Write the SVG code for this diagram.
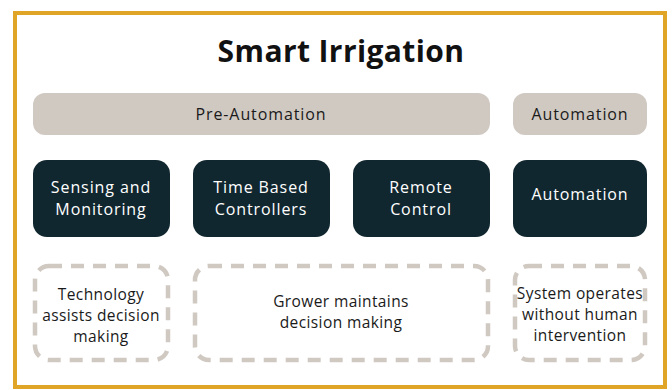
<svg xmlns="http://www.w3.org/2000/svg" width="672" height="390" viewBox="0 0 672 390">
<style>
.t{font-family:"Open Sans","Liberation Sans",sans-serif;font-size:16px;letter-spacing:0.9px;text-anchor:middle}
.s{font-family:"Open Sans","Liberation Sans",sans-serif;font-size:15.5px;letter-spacing:0.4px;text-anchor:middle}
.cat{fill:#D0C9C2}
.dark{fill:#11272F}
.dash{fill:none;stroke:#D0C9C2;stroke-width:4.5;stroke-dasharray:13 9}
.w{fill:#ffffff}
.k{fill:#1a1a1a}
</style>
<rect x="0" y="0" width="672" height="390" fill="#ffffff"/>
<rect x="15" y="13" width="650" height="374" fill="#ffffff" stroke="#E0A526" stroke-width="4"/>
<text x="341" y="62" font-family="'Open Sans','Liberation Sans',sans-serif" font-size="30" font-weight="bold" letter-spacing="0.4" text-anchor="middle" fill="#111111">Smart Irrigation</text>
<g id="pre-automation"><rect class="cat" x="33" y="93" width="457" height="42" rx="12"/><text class="t k" x="261" y="120">Pre-Automation</text></g>
<g id="automation-cat"><rect class="cat" x="513" y="93" width="134" height="42" rx="12"/><text class="t k" x="580" y="120">Automation</text></g>
<g id="sensing"><rect class="dark" x="33" y="160" width="137" height="77" rx="14"/><text class="t w" x="101" y="193">Sensing and</text><text class="t w" x="101" y="215">Monitoring</text></g>
<g id="time"><rect class="dark" x="193" y="160" width="137" height="77" rx="14"/><text class="t w" x="261" y="193">Time Based</text><text class="t w" x="261" y="215">Controllers</text></g>
<g id="remote"><rect class="dark" x="353" y="160" width="137" height="77" rx="14"/><text class="t w" x="421" y="193">Remote</text><text class="t w" x="421" y="215">Control</text></g>
<g id="automation"><rect class="dark" x="513" y="160" width="134" height="77" rx="14"/><text class="t w" x="580" y="200">Automation</text></g>
<g id="tech"><rect class="dash" x="35" y="266" width="133" height="94" rx="14"/><text class="s k" x="101" y="300">Technology</text><text class="s k" x="101" y="321">assists decision</text><text class="s k" x="101" y="342">making</text></g>
<g id="grower"><rect class="dash" x="195" y="266" width="293" height="94" rx="14"/><text class="s k" x="341" y="307">Grower maintains</text><text class="s k" x="341" y="328">decision making</text></g>
<g id="system"><rect class="dash" x="515" y="266" width="130" height="94" rx="14"/><text class="s k" x="580" y="299">System operates</text><text class="s k" x="580" y="320">without human</text><text class="s k" x="580" y="341">intervention</text></g>
<g id="connectors"></g>
</svg>
